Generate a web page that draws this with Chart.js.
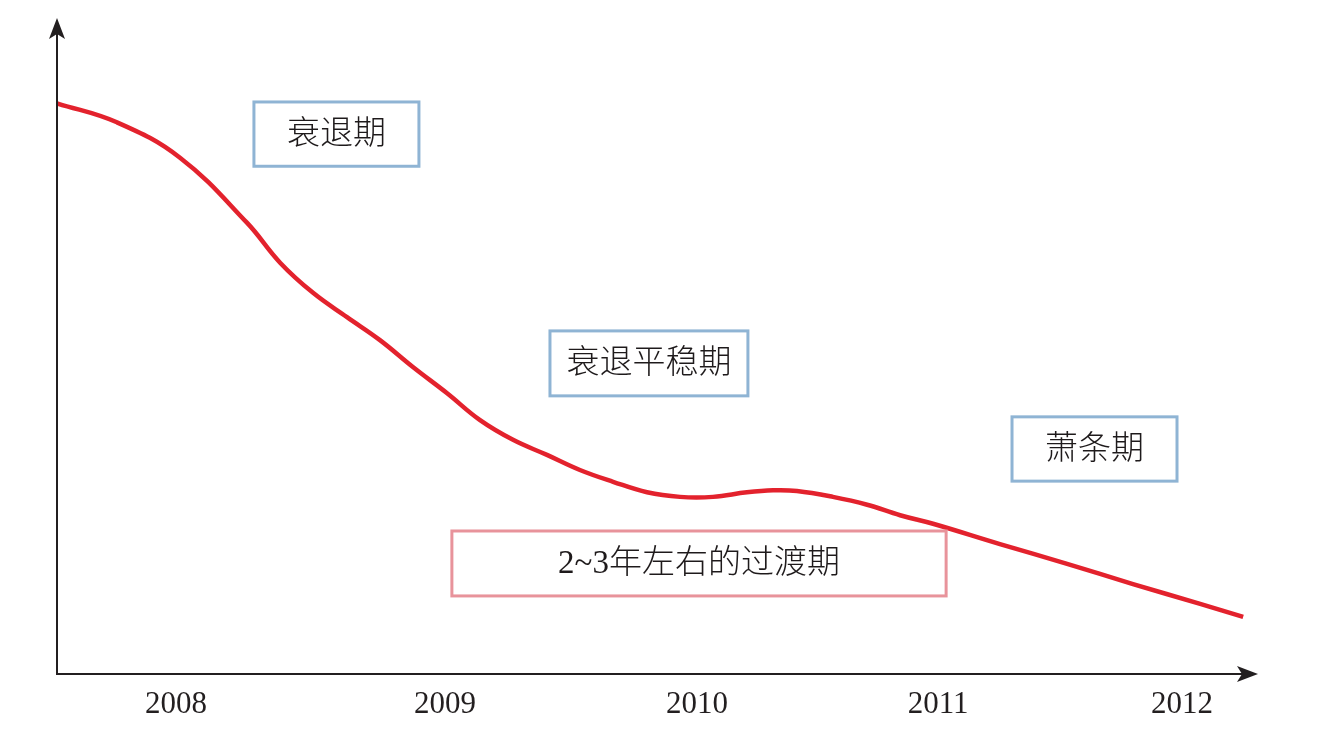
<!DOCTYPE html>
<html>
<head>
<meta charset="utf-8">
<script src="https://cdn.jsdelivr.net/npm/chart.js@4"></script>
<style>
  html, body { margin: 0; padding: 0; background: #fff; }
  #wrap { width: 1322px; height: 735px; }
</style>
</head>
<body>
<div id="wrap"><canvas id="myChart"></canvas></div>
<script>
// curve: x in years, y in arbitrary index units
const years = [2007.527, 2007.765, 2008.016, 2008.282, 2008.414, 2008.545, 2008.680,
  2008.811, 2008.942, 2009.078, 2009.209, 2009.340, 2009.475, 2009.606, 2009.738, 2009.873,
  2010.004, 2010.135, 2010.270, 2010.374, 2010.469, 2010.612, 2010.748, 2010.879, 2011.010,
  2011.276, 2011.543, 2011.805, 2012.072, 2012.243];
const index = [87.0, 84.1, 78.7, 68.8, 62.7, 58.1, 54.4,
  50.9, 46.8, 42.8, 38.7, 35.7, 33.4, 31.1, 29.3, 27.7,
  27.0, 27.0, 27.7, 28.0, 27.9, 27.0, 25.8, 24.2, 22.9,
  19.8, 16.8, 13.7, 10.7, 8.7];

const tickLabels = ['2008', '2009', '2010', '2011', '2012'];
const tickAt = [2008.0, 2009.07, 2010.072, 2011.03, 2012.0];

const phaseNames = ['衰退期', '衰退平稳期', '萧条期', '2~3年左右的过渡期'];
const phaseX = [[2008.310, 2008.966], [2009.487, 2010.274], [2011.324, 2011.980], [2009.097, 2011.062]];
const phaseY = [[87.2, 77.4], [52.3, 42.4], [39.2, 29.4], [21.8, 11.9]];
const phaseColor = ['#8fb4d4', '#8fb4d4', '#8fb4d4', '#e8939b'];

const points = years.map((x, i) => ({ x: x, y: index[i] }));

// axes with arrowheads + labelled phase boxes
const decor = {
  id: 'decor',
  afterDraw(chart) {
    const ctx = chart.ctx;
    const a = chart.chartArea;
    const xs = chart.scales.x, ys = chart.scales.y;
    ctx.save();
    ctx.strokeStyle = '#231f20';
    ctx.fillStyle = '#231f20';
    ctx.lineWidth = 2;
    ctx.beginPath();
    ctx.moveTo(a.left, a.top + 10);
    ctx.lineTo(a.left, a.bottom);
    ctx.lineTo(a.right - 10, a.bottom);
    ctx.stroke();
    // up arrow
    ctx.beginPath();
    ctx.moveTo(a.left, a.top);
    ctx.lineTo(a.left + 8, a.top + 21);
    ctx.lineTo(a.left, a.top + 16);
    ctx.lineTo(a.left - 8, a.top + 21);
    ctx.closePath();
    ctx.fill();
    // right arrow
    ctx.beginPath();
    ctx.moveTo(a.right, a.bottom);
    ctx.lineTo(a.right - 21, a.bottom - 8);
    ctx.lineTo(a.right - 16, a.bottom);
    ctx.lineTo(a.right - 21, a.bottom + 8);
    ctx.closePath();
    ctx.fill();

    ctx.lineWidth = 3;
    ctx.textAlign = 'center';
    ctx.textBaseline = 'middle';
    ctx.font = '300 33px "Liberation Serif", "Noto Sans CJK SC"';
    phaseNames.forEach((name, i) => {
      const x0 = xs.getPixelForValue(phaseX[i][0]);
      const x1 = xs.getPixelForValue(phaseX[i][1]);
      const y0 = ys.getPixelForValue(phaseY[i][0]);
      const y1 = ys.getPixelForValue(phaseY[i][1]);
      ctx.strokeStyle = phaseColor[i];
      ctx.strokeRect(x0, y0, x1 - x0, y1 - y0);
      ctx.fillStyle = '#1e1a1b';
      ctx.fillText(name, (x0 + x1) / 2, (y0 + y1) / 2 + 1);
    });
    ctx.restore();
  }
};

const config = {
  type: 'line',
  data: {
    datasets: [{
      data: points,
      borderColor: '#e3222d',
      borderWidth: 4.5,
      pointRadius: 0,
      tension: 0.4,
      fill: false
    }]
  },
  options: {
    responsive: true,
    maintainAspectRatio: false,
    animation: false,
    layout: { padding: { left: 57, top: 18, right: 64, bottom: 0 } },
    plugins: { legend: { display: false }, tooltip: { enabled: false } },
    scales: {
      x: {
        type: 'linear',
        min: 2007.527,
        max: 2012.302,
        afterBuildTicks: (axis) => { axis.ticks = tickAt.map(v => ({ value: v })); },
        afterFit: (axis) => { axis.height = 61; },
        grid: { display: false, drawTicks: false },
        border: { display: false },
        ticks: {
          padding: 15,
          color: '#231f20',
          font: { family: 'Liberation Serif', size: 31, lineHeight: 1.0 },
          callback: (v) => {
            const i = tickAt.indexOf(v);
            return i >= 0 ? tickLabels[i] : '';
          }
        }
      },
      y: {
        display: false,
        min: 0,
        max: 100
      }
    }
  },
  plugins: [decor]
};

const myChart = new Chart(document.getElementById('myChart'), config);
</script>
</body>
</html>
